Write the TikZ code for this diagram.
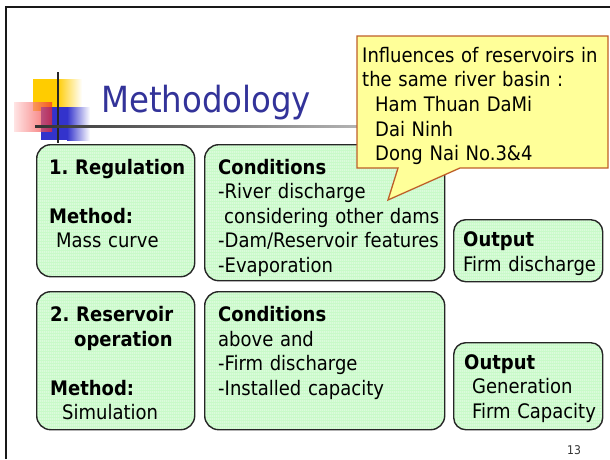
\documentclass[tikz,border=0pt]{standalone}
\usepackage{fontspec}
\setmainfont{DejaVu Sans Condensed}
\frenchspacing
\usetikzlibrary{patterns.meta}
\definecolor{boxgreen}{RGB}{200,250,200}
\definecolor{titleblue}{RGB}{51,51,153}
\definecolor{callfill}{RGB}{255,255,153}
\definecolor{calldraw}{RGB}{190,95,40}
\definecolor{logoyellow}{RGB}{255,204,0}
\definecolor{logoblue}{RGB}{51,51,204}
\definecolor{logored}{RGB}{240,40,40}
\tikzdeclarepattern{
  name=hstripes,
  type=uncolored,
  bottom left={(0pt,0pt)},
  top right={(2pt,2.5pt)},
  tile size={(2pt,2.5pt)},
  code={\pgfsetlinewidth{0.9pt}\pgfpathmoveto{\pgfpoint{-0.1pt}{1.25pt}}\pgfpathlineto{\pgfpoint{2.1pt}{1.25pt}}\pgfusepathqstroke}
}
\tikzset{
  box/.style={draw=black!85, line width=1.4pt, rounded corners=14pt,
    preaction={fill=boxgreen}, pattern=hstripes, pattern color=white,
    anchor=north west, inner sep=0pt},
  txt/.style={anchor=base west, inner sep=0pt, align=left, text width=#1,
    font=\fontsize{20}{24.5}\selectfont},
  txt/.default=150pt
}
\begin{document}
\begin{tikzpicture}[x=1pt,y=-1pt]
\useasboundingbox (0,0) rectangle (610,459);
% slide frame
\draw[line width=2pt, black!90] (6,459) -- (6,7) -- (610,7);
% logo
\fill[logoyellow] (33,79) rectangle (57,111);
\shade[left color=logoyellow, right color=white] (57,79) rectangle (82,111);
\fill[logoblue] (41,107) rectangle (67,140);
\shade[left color=logoblue, right color=white] (67,107) rectangle (90,140);
\shade[left color=red!15, right color=logored, opacity=0.7] (14,102) rectangle (52,131);
\draw[line width=2pt, black!85] (57.5,72) -- (57.5,143);
\shade[left color=black!80, right color=black!20] (35,125) rectangle (420,127.5);
% title
\node[anchor=base west, inner sep=0pt, text=titleblue, font=\fontsize{36}{40}\selectfont] (title) at (101,112) {Methodology};
% boxes
\node[box, minimum width=158pt, minimum height=132pt] (reg) at (36,144) {};
\node[box, minimum width=240pt, minimum height=136pt] (cond1) at (204,144) {};
\node[box, minimum width=149pt, minimum height=62pt, rounded corners=12pt] (out1) at (453,219) {};
\node[box, minimum width=158pt, minimum height=138pt] (res) at (36,291) {};
\node[box, minimum width=240pt, minimum height=138pt] (cond2) at (204,291) {};
\node[box, minimum width=149pt, minimum height=87pt, rounded corners=12pt] (out2) at (453,342) {};
% box texts
\node[txt] (regtxt) at (49,174) {\textbf{1. Regulation}\\ \mbox{}\\ \textbf{Method:}\\ \hspace*{7pt}Mass curve};
\node[txt=225pt] (cond1txt) at (218,174) {\textbf{Conditions}\\ -River discharge\\ \hspace*{6pt}considering other dams\\ -Dam/Reservoir features\\ -Evaporation};
\node[txt=140pt] (out1txt) at (463,246.7) {\textbf{Output}\\ Firm discharge};
\node[txt] (restxt) at (50,321.7) {\textbf{2. Reservoir}\\ \hspace*{24pt}\textbf{operation}\\ \mbox{}\\ \textbf{Method:}\\ \hspace*{12pt}Simulation};
\node[txt=225pt] (cond2txt) at (218,321.7) {\textbf{Conditions}\\ above and\\ -Firm discharge\\ -Installed capacity};
\node[txt=140pt] (out2txt) at (464,369) {\textbf{Output}\\ \hspace*{8pt}Generation\\ \hspace*{8pt}Firm Capacity};
% callout
\coordinate (tip) at (388,200);
\draw[fill=callfill, draw=calldraw, line width=1.3pt, line join=miter]
  (357,36) -- (608,36) -- (608,168) -- (460,168) -- (tip) -- (398,168) -- (357,168) -- cycle;
\node[anchor=base west, inner sep=0pt, align=left, text width=240pt,
  font=\fontsize{20}{24.7}\selectfont] (calltxt) at (362,62)
  {Influences of reservoirs in\\ the same river basin :\\ \hspace*{13pt}Ham Thuan DaMi\\ \hspace*{13pt}Dai Ninh\\ \hspace*{13pt}Dong Nai No.3\&4};
% page number
\node[anchor=base, inner sep=0pt, text=black!80, font=\fontsize{12}{14}\selectfont] (pgnum) at (574,454) {13};
\end{tikzpicture}
\end{document}
